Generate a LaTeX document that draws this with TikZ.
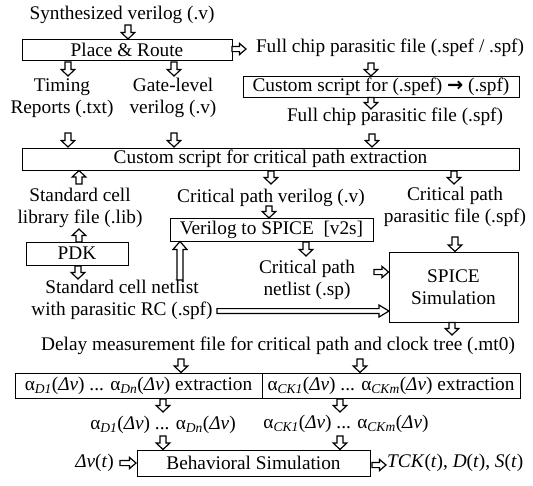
\documentclass[tikz,border=0pt]{standalone}
\usepackage{fontspec}
\setmainfont{Liberation Serif}
\newfontfamily\symfont{DejaVu Sans}
\usetikzlibrary{calc}

\newcommand\figfont{\fontsize{19.3}{22}\selectfont}

\tikzset{
  lbl/.style={inner sep=0pt, align=center, font=\figfont},
  box/.style={draw, line width=1pt, inner sep=0pt, align=center, font=\figfont},
  % arrow dimensions: shaft half width, head half width, head length
  vsmall/.code={\def\sh{3}\def\hh{6.8}\def\hl{6.5}},
  hsmall/.code={\def\sh{2.6}\def\hh{5.6}\def\hl{6.5}},
  vlong/.code={\def\sh{3}\def\hh{7}\def\hl{8}},
  hlong/.code={\def\sh{2.4}\def\hh{6}\def\hl{10}},
  blockarrow/.style={draw, fill=white, line width=1.2pt, line join=miter, vsmall},
}

% hollow block arrow from #2 (tail) to #3 (tip)
\newcommand\hollowarrow[3][]{%
  \path let \p1=(#2), \p2=(#3) in \pgfextra{%
    \pgfmathsetmacro\tmplen{veclen(\x2-\x1,\y2-\y1)}%
    \pgfmathsetmacro\tmpang{atan2(\y2-\y1,\x2-\x1)}%
    \xdef\arrlen{\tmplen}\xdef\arrang{\tmpang}%
    \xdef\arrx{\x1}\xdef\arry{\y1}};
  \draw[blockarrow,#1,shift={(\arrx,\arry)},rotate=\arrang]
    (0,-\sh) -- ({\arrlen-\hl},-\sh) -- ({\arrlen-\hl},-\hh) -- (\arrlen,0)
    -- ({\arrlen-\hl},\hh) -- ({\arrlen-\hl},\sh) -- (0,\sh) -- cycle;}

\begin{document}
\begin{tikzpicture}[x=1pt,y=1pt]
\useasboundingbox (0,0) rectangle (533,-485);
\fill[white] (0,0) rectangle (533,-485);

% ---- layout flow ----
\node[lbl] (syn) at (122,-15) {Synthesized verilog (.v)};
\node[box, minimum width=210pt, minimum height=21pt] (pr) at (127,-50) {Place \& Route};
\node[lbl] (fc1) at (390,-48) {Full chip parasitic file (.spef / .spf)};
\node[box, minimum width=276pt, minimum height=21pt] (cs1) at (381,-87)
  {Custom script for (.spef) {\symfont\bfseries →} (.spf)};
\node[lbl] (fc2) at (395,-117) {Full chip parasitic file (.spf)};
\node[lbl] (timing) at (62,-98) {Timing\\Reports (.txt)};
\node[lbl] (gate) at (173,-98) {Gate-level\\verilog (.v)};

% ---- extraction ----
\node[box, minimum width=497pt, minimum height=22pt] (crit) at (270.5,-159)
  {Custom script for critical path extraction};
\node[lbl] (stdlib) at (80,-208) {Standard cell\\library file (.lib)};
\node[box, minimum width=102pt, minimum height=23pt] (pdk) at (77,-253.5) {PDK};
\node[lbl] (stdnet) at (122,-300) {Standard cell netlist\\with parasitic RC (.spf)};
\node[lbl] (cpv) at (271,-198) {Critical path verilog (.v)};
\node[box, minimum width=203pt, minimum height=23pt] (v2s) at (271.5,-229.5)
  {Verilog to SPICE~~[v2s]};
\node[lbl] (cpn) at (307,-280) {Critical path\\netlist (.sp)};
\node[lbl] (cpp) at (455,-207) {Critical path\\parasitic file (.spf)};
\node[box, minimum width=129pt, minimum height=70pt] (spice) at (453.5,-287)
  {SPICE\\Simulation};

% ---- delay and behavioral model ----
\node[lbl] (delay) at (278,-346)
  {Delay measurement file for critical path and clock tree (.mt0)};
\node[box, minimum width=247pt, minimum height=25pt] (xd) at (138.5,-385.5)
  {α\textsubscript{\textit{D1}}(\textit{Δv}) ... α\textsubscript{\textit{Dn}}(\textit{Δv}) extraction};
\node[box, minimum width=258pt, minimum height=25pt] (xck) at (391,-385.5)
  {α\textsubscript{\textit{CK1}}(\textit{Δv}) ... α\textsubscript{\textit{CKm}}(\textit{Δv}) extraction};
\node[lbl] (ad) at (163,-425)
  {α\textsubscript{\textit{D1}}(\textit{Δv}) ... α\textsubscript{\textit{Dn}}(\textit{Δv})};
\node[lbl] (ack) at (346,-424)
  {α\textsubscript{\textit{CK1}}(\textit{Δv}) ... α\textsubscript{\textit{CKm}}(\textit{Δv})};
\node[box, minimum width=233pt, minimum height=26pt] (beh) at (253.5,-463)
  {Behavioral Simulation};
\node[lbl, anchor=east] (dv) at (114,-463) {\textit{Δv}(\textit{t})};
\node[lbl, anchor=west] (out) at (387,-463)
  {\textit{TCK}(\textit{t}), \textit{D}(\textit{t}), \textit{S}(\textit{t})};

% ---- block arrows ----
\hollowarrow{128,-25}{128,-39}
\hollowarrow[hsmall]{232,-49}{246,-49}
\hollowarrow{68,-62}{68,-76}
\hollowarrow{174,-62}{174,-76}
\hollowarrow{371,-63}{371,-76}
\hollowarrow{371,-97.5}{371,-109}
\hollowarrow{372,-134}{372,-147}
\hollowarrow{68,-133}{68,-147}
\hollowarrow{174,-133}{174,-147}
\hollowarrow{79,-184}{79,-170.5}
\hollowarrow{79,-242}{79,-229}
\hollowarrow{78,-266}{78,-279}
\hollowarrow{271,-171}{271,-184}
\hollowarrow{269,-206}{269,-218}
\hollowarrow{454,-171}{454,-184}
\hollowarrow{455,-237}{455,-251.5}
\hollowarrow[vlong]{180,-280}{180,-241.5}
\hollowarrow{306,-242}{306,-256}
\hollowarrow[hsmall]{374,-272}{388.5,-272}
\hollowarrow[hlong]{217,-311}{389,-311}
\hollowarrow{452,-322.5}{452,-335}
\hollowarrow{181,-359}{181,-372.5}
\hollowarrow{360,-359}{360,-372.5}
\hollowarrow{163,-399}{163,-412}
\hollowarrow{340,-399}{340,-412}
\hollowarrow{163,-436}{163,-449.5}
\hollowarrow{340,-436}{340,-449.5}
\hollowarrow[hsmall]{120,-463}{136,-463}
\hollowarrow[hsmall]{372,-465}{386,-465}
\end{tikzpicture}
\end{document}
